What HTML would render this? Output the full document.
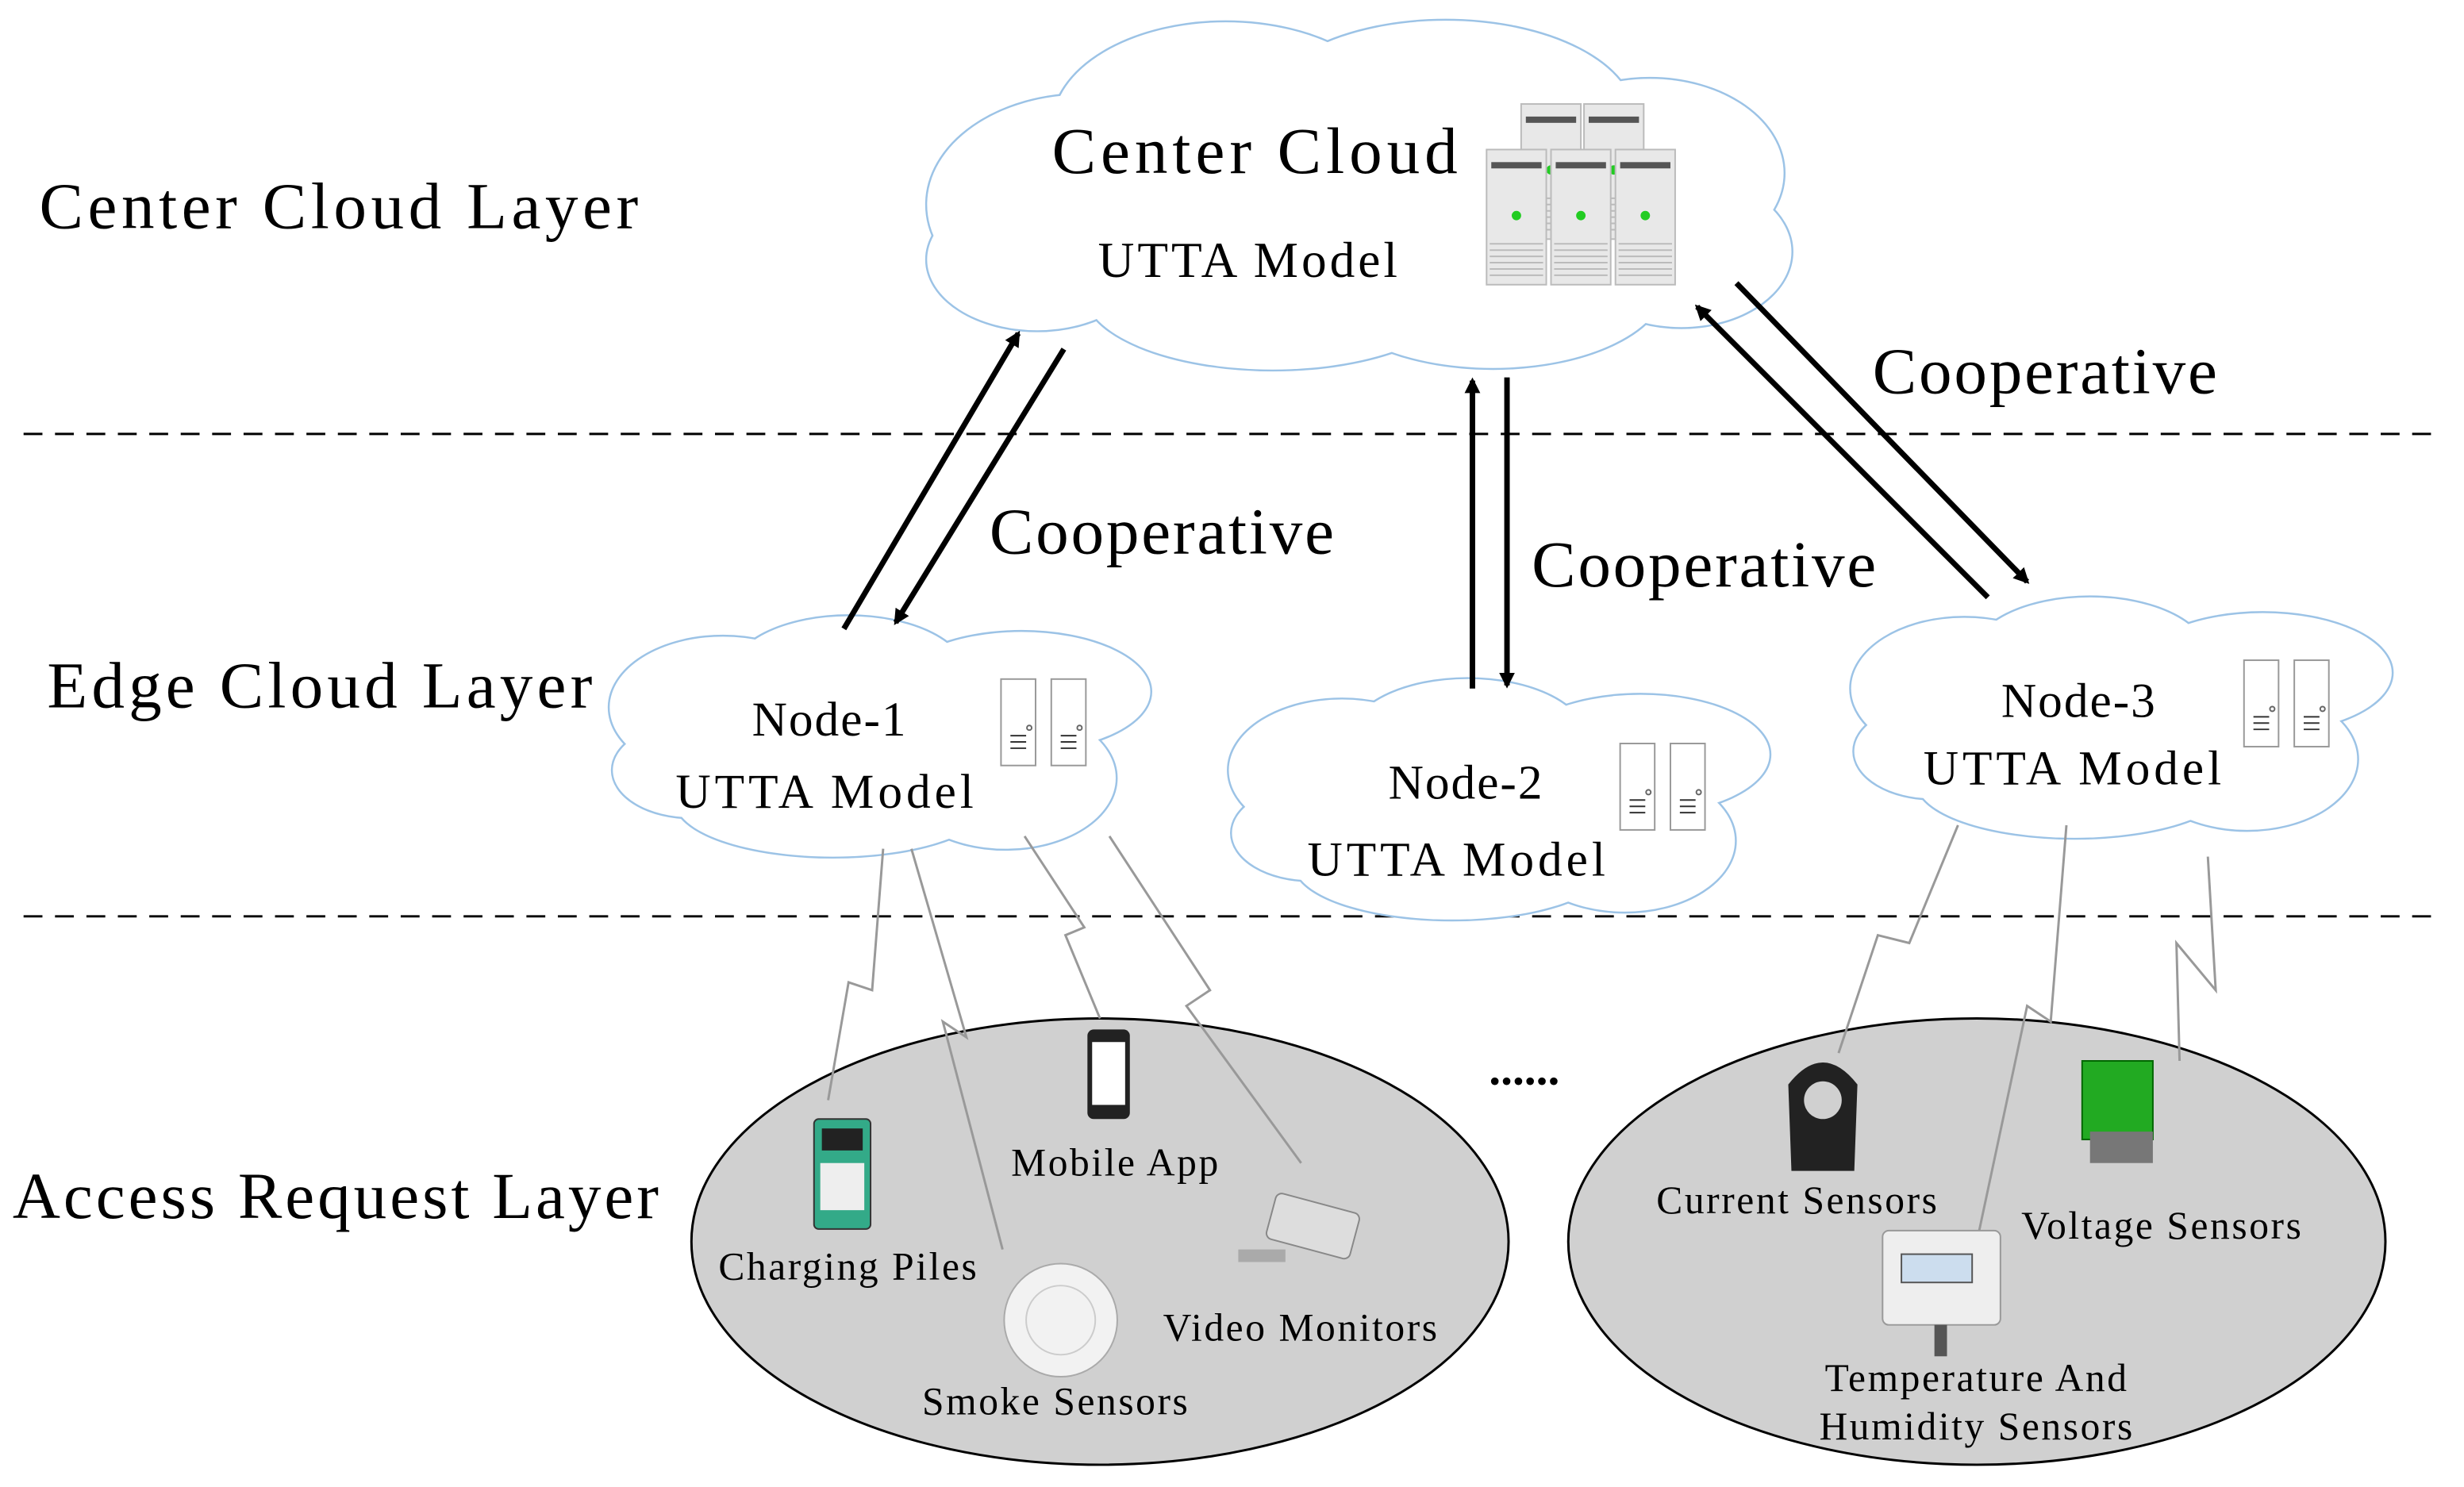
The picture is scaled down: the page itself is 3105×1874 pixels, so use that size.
<!DOCTYPE html>
<html><head><meta charset="utf-8"><style>html,body{margin:0;padding:0;background:#fff}svg{display:block}</style></head><body>
<svg width="3105" height="1874" viewBox="0 0 1568 946" xmlns="http://www.w3.org/2000/svg" font-family="Liberation Serif, serif">
<defs>
<marker id="ah" markerWidth="10" markerHeight="10" refX="8" refY="5" orient="auto" markerUnits="userSpaceOnUse"><path d="M0,0 L10,5 L0,10 z" fill="#000"/></marker>
<g id="srv"><rect x="0" y="0" width="22" height="55" fill="#fff" stroke="#999" stroke-width="1"/><circle cx="18" cy="31" r="1.5" fill="none" stroke="#666"/><path d="M6,36h10M6,40h10M6,44h10" stroke="#333" stroke-width="1"/></g>
<g id="big"><rect x="0" y="0" width="38" height="86" fill="#e8e8e8" stroke="#bbb"/><rect x="3" y="8" width="32" height="4" fill="#555"/><circle cx="19" cy="42" r="3" fill="#2c2"/><path d="M2,60h34M2,64h34M2,68h34M2,72h34M2,76h34M2,80h34" stroke="#bbb"/></g>
<g id="n1"><ellipse cx="460" cy="450" rx="72" ry="45"/><ellipse cx="540" cy="430" rx="75" ry="38"/><ellipse cx="650" cy="440" rx="82" ry="38"/><ellipse cx="640" cy="495" rx="70" ry="45"/><ellipse cx="530" cy="510" rx="100" ry="35"/><ellipse cx="440" cy="490" rx="50" ry="30"/><ellipse cx="555" cy="470" rx="120" ry="45"/></g>
<g id="cc"><ellipse cx="690" cy="130" rx="100" ry="70"/><ellipse cx="780" cy="80" rx="110" ry="66"/><ellipse cx="920" cy="75" rx="120" ry="62"/><ellipse cx="1050" cy="110" rx="85" ry="60"/><ellipse cx="1070" cy="160" rx="70" ry="48"/><ellipse cx="950" cy="180" rx="110" ry="54"/><ellipse cx="810" cy="185" rx="120" ry="50"/><ellipse cx="660" cy="165" rx="70" ry="45"/><ellipse cx="860" cy="130" rx="220" ry="80"/></g>
</defs>
<rect width="1568" height="946" fill="#fff"/>
<line x1="15" y1="276" x2="1555" y2="276" stroke="#000" stroke-width="1.5" stroke-dasharray="12,8"/>
<line x1="15" y1="583" x2="1555" y2="583" stroke="#000" stroke-width="1.5" stroke-dasharray="12,8"/>
<g font-size="42" fill="#000">
<text x="25" y="145" letter-spacing="2.8">Center Cloud Layer</text>
<text x="30" y="450" letter-spacing="2.6">Edge Cloud Layer</text>
<text x="8" y="775" letter-spacing="2">Access Request Layer</text>
</g>
<g stroke="#9cc3e6" stroke-width="2.5" fill="#fff">
<use href="#cc"/>
<use href="#n1"/>
<use href="#n1" transform="translate(394,40)"/>
<use href="#n1" transform="translate(790,-12)"/>
</g>
<g fill="#fff" stroke="none">
<use href="#cc"/>
<use href="#n1"/>
<use href="#n1" transform="translate(394,40)"/>
<use href="#n1" transform="translate(790,-12)"/>
</g>
<use href="#big" x="968" y="66"/><use href="#big" x="1008" y="66"/>
<use href="#big" x="946" y="95"/><use href="#big" x="987" y="95"/><use href="#big" x="1028" y="95"/>
<use href="#srv" x="637" y="432"/><use href="#srv" x="669" y="432"/>
<use href="#srv" x="1031" y="473"/><use href="#srv" x="1063" y="473"/>
<use href="#srv" x="1428" y="420"/><use href="#srv" x="1460" y="420"/>
<g fill="#000" text-anchor="middle">
<text x="800" y="110" font-size="42" letter-spacing="3">Center Cloud</text>
<text x="795" y="176" font-size="32" letter-spacing="2">UTTA Model</text>
<text x="528" y="468" font-size="31" letter-spacing="1">Node-1</text>
<text x="526" y="514" font-size="31" letter-spacing="2.5">UTTA Model</text>
<text x="933" y="508" font-size="31" letter-spacing="1">Node-2</text>
<text x="928" y="557" font-size="31" letter-spacing="2.5">UTTA Model</text>
<text x="1323" y="456" font-size="31" letter-spacing="1">Node-3</text>
<text x="1320" y="499" font-size="31" letter-spacing="2.5">UTTA Model</text>
<text x="740" y="352" font-size="42" letter-spacing="1.4">Cooperative</text>
<text x="1085" y="373" font-size="42" letter-spacing="1.4">Cooperative</text>
<text x="1302" y="250" font-size="42" letter-spacing="1.4">Cooperative</text>
</g>
<g stroke="#000" stroke-width="3.5" marker-end="url(#ah)">
<line x1="537" y1="400" x2="648" y2="212"/>
<line x1="677" y1="222" x2="570" y2="396"/>
<line x1="937" y1="438" x2="937" y2="242"/>
<line x1="959" y1="240" x2="959" y2="436"/>
<line x1="1265" y1="380" x2="1080" y2="195"/>
<line x1="1105" y1="180" x2="1290" y2="370"/>
</g>
<ellipse cx="700" cy="790" rx="260" ry="142" fill="#d0d0d0" stroke="#000" stroke-width="1.5"/>
<ellipse cx="1258" cy="790" rx="260" ry="142" fill="#d0d0d0" stroke="#000" stroke-width="1.5"/>
<g fill="none" stroke="#999" stroke-width="1.5">
<path d="M562,540 L555,630 L540,625 L527,700"/>
<path d="M580,540 L615,660 L600,650 L638,795"/>
<path d="M652,532 L690,590 L678,595 L700,648"/>
<path d="M706,532 L770,630 L755,640 L828,740"/>
<path d="M1246,525 L1215,600 L1195,595 L1170,670"/>
<path d="M1315,525 L1305,650 L1290,640 L1258,790"/>
<path d="M1405,545 L1410,630 L1385,600 L1387,675"/>
</g>
<text x="970" y="690" font-size="30" text-anchor="middle" font-weight="bold">......</text>
<rect x="518" y="712" width="36" height="70" rx="3" fill="#3a8" stroke="#333"/><rect x="523" y="718" width="26" height="14" fill="#222"/><rect x="522" y="740" width="28" height="30" fill="#eee"/>
<rect x="692" y="655" width="27" height="57" rx="4" fill="#222"/><rect x="695" y="663" width="21" height="40" fill="#fff"/>
<circle cx="675" cy="840" r="36" fill="#f2f2f2" stroke="#aaa"/><circle cx="675" cy="840" r="22" fill="none" stroke="#ccc"/>
<rect x="808" y="765" width="55" height="30" rx="4" fill="#ddd" stroke="#888" transform="rotate(15 835 780)"/><rect x="788" y="795" width="30" height="8" fill="#aaa"/>
<path d="M1140,745 L1138,690 Q1160,662 1182,690 L1180,745 Z" fill="#222"/><circle cx="1160" cy="700" r="12" fill="#d0d0d0"/>
<rect x="1325" y="675" width="45" height="50" fill="#2a2" stroke="#060"/><rect x="1330" y="720" width="40" height="20" fill="#777"/>
<rect x="1198" y="783" width="75" height="60" rx="4" fill="#eee" stroke="#999"/><rect x="1210" y="798" width="45" height="18" fill="#cde" stroke="#555"/><rect x="1231" y="843" width="8" height="20" fill="#555"/>
<g font-size="25" fill="#000" text-anchor="middle" letter-spacing="1.3">
<text x="540" y="814">Charging Piles</text>
<text x="710" y="748">Mobile App</text>
<text x="672" y="900">Smoke Sensors</text>
<text x="828" y="853">Video Monitors</text>
<text x="1144" y="772">Current Sensors</text>
<text x="1376" y="788">Voltage Sensors</text>
<text x="1258" y="885">Temperature And</text>
<text x="1258" y="916">Humidity Sensors</text>
</g>
</svg>
</body></html>
